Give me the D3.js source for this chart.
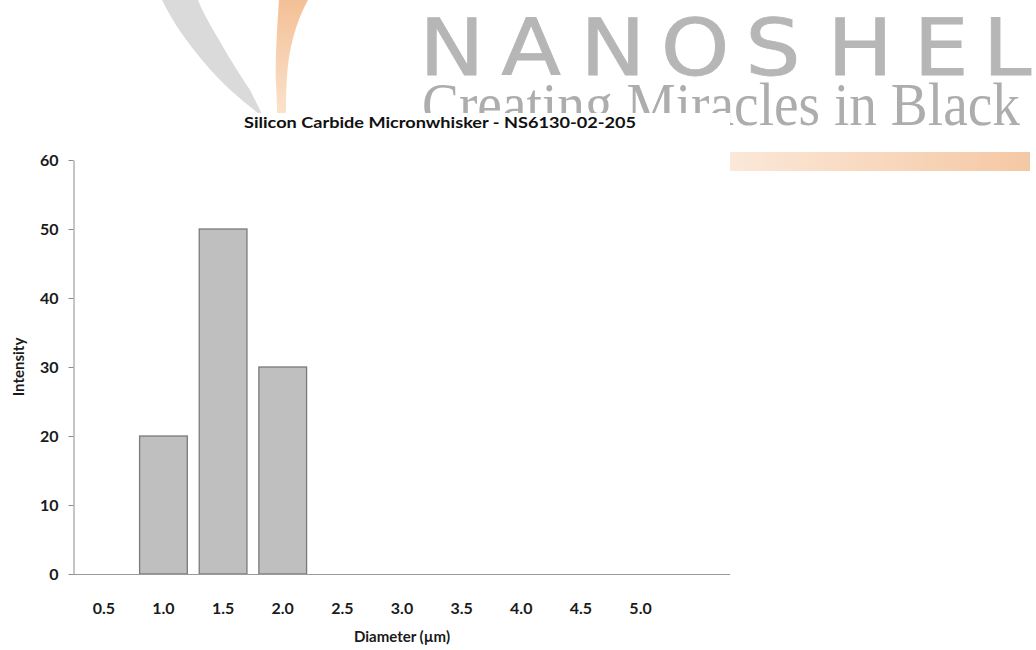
<!DOCTYPE html>
<html>
<head>
<meta charset="utf-8">
<script src="https://cdn.jsdelivr.net/npm/d3@7"></script>
<style>
  body { margin: 0; background: #fff; }
  svg { display: block; }
  .tick text { font-family: Lato, "Open Sans", sans-serif; font-weight: 700; font-size: 16px; fill: #1a1a1a; }
</style>
</head>
<body>
<div id="viz"></div>
<script>
const width = 1036;
const height = 650;
const margin = {top: 160, right: 306, bottom: 76, left: 74};

// Data
const diameters = ['0.5', '1.0', '1.5', '2.0', '2.5', '3.0', '3.5', '4.0', '4.5', '5.0', ''];
const intensity = [0, 20, 50, 30, 0, 0, 0, 0, 0, 0, 0];
const yTicks = [0, 10, 20, 30, 40, 50, 60];

const titleText = 'Silicon Carbide Micronwhisker - NS6130-02-205';
const xLabel = 'Diameter (µm)';
const yLabel = 'Intensity';

// logo watermark letters and their centres
const logoLetters = ['N', 'A', 'N', 'O', 'S', 'H', 'E', 'L'];
const logoCentres = [452, 531, 613, 695, 773, 860, 941, 1007];

const svg = d3.select('#viz')
  .append('svg')
  .attr('width', width)
  .attr('height', height)
  .attr('viewBox', [0, 0, width, height]);

// Watermark (logo behind the chart)
const defs = svg.append('defs');
const og = defs.append('linearGradient').attr('id', 'swoosh').attr('x1', 0).attr('y1', 0).attr('x2', 0).attr('y2', 1);
og.append('stop').attr('offset', '0%').attr('stop-color', '#f3c096');
og.append('stop').attr('offset', '100%').attr('stop-color', '#fbe2cc');
const bg = defs.append('linearGradient').attr('id', 'band').attr('x1', 0).attr('y1', 0).attr('x2', 1).attr('y2', 0);
bg.append('stop').attr('offset', '0%').attr('stop-color', '#fbe8d8');
bg.append('stop').attr('offset', '100%').attr('stop-color', '#f5c8a4');

const logo = svg.append('g').attr('class', 'watermark');
logo.append('path')
  .attr('d', 'M162,0 C168,12 175,24 182,34 C195,52 208,68 222,82 C235,95 248,105 259,114 L262,114 C258,106 254,98 250,90 C240,75 232,62 226,52 C216,34 205,18 198,0 Z')
  .attr('fill', '#dadada');
logo.append('path')
  .attr('d', 'M279,0 C277,30 275,60 276,85 C277,100 277,108 277,114 L286,114 C286,100 286,85 288,65 C291,40 298,18 308,0 Z')
  .attr('fill', 'url(#swoosh)');

logo.selectAll('.logo-letter')
  .data(logoLetters)
  .join('text')
    .attr('class', 'logo-letter')
    .attr('transform', (d, i) => `translate(${logoCentres[i]}, 75) scale(1.12, 1)`)
    .attr('text-anchor', 'middle')
    .style('font-family', '"DejaVu Sans", sans-serif')
    .style('font-size', '78px')
    .attr('fill', '#b6b6b6')
    .attr('stroke', '#b6b6b6')
    .attr('stroke-width', 0.8)
    .text(d => d);

logo.append('text')
  .attr('x', 422).attr('y', 125)
  .attr('textLength', 598).attr('lengthAdjust', 'spacingAndGlyphs')
  .style('font-family', '"Liberation Serif", serif')
  .style('font-size', '61px')
  .attr('fill', '#adadad')
  .text('Creating  Miracles  in  Black');
logo.append('rect')
  .attr('x', 730).attr('y', 152).attr('width', 300).attr('height', 19)
  .attr('fill', 'url(#band)');

// White chart area over the watermark
svg.append('rect')
  .attr('x', 0).attr('y', 113)
  .attr('width', 730).attr('height', height - 113)
  .attr('fill', '#fff');

// Scales
const xScale = d3.scaleBand()
  .domain(diameters)
  .range([margin.left, width - margin.right])
  .paddingInner(0.2)
  .paddingOuter(0.1);

const yScale = d3.scaleLinear()
  .domain([0, 60])
  .range([height - margin.bottom, margin.top]);

// Y axis
const yAxis = svg.append('g')
  .attr('transform', `translate(${margin.left - 0.5}, 0)`)
  .call(d3.axisLeft(yScale).tickValues(yTicks).tickSize(5).tickPadding(10).tickSizeOuter(0));
yAxis.select('.domain').attr('stroke', '#8c8c8c');
yAxis.selectAll('.tick line').attr('stroke', '#8c8c8c');

// Bars
svg.selectAll('.bar')
  .data(diameters.map((d, i) => ({d: d, v: intensity[i]})).filter(o => o.v > 0))
  .join('rect')
    .attr('class', 'bar')
    .attr('x', o => xScale(o.d))
    .attr('y', o => yScale(o.v))
    .attr('width', xScale.bandwidth())
    .attr('height', o => yScale(0) - yScale(o.v))
    .attr('fill', '#bfbfbf')
    .attr('stroke', '#7a7a7a')
    .attr('stroke-width', 1.3);

// X axis
const xAxis = svg.append('g')
  .attr('transform', `translate(0, ${yScale(0) + 0.5})`)
  .call(d3.axisBottom(xScale).tickSize(0).tickPadding(28).tickSizeOuter(0));
xAxis.select('.domain').attr('stroke', '#9a9a9a').attr('d', `M${margin.left - 1},0H${width - margin.right}`);

// Title and axis labels
svg.append('text')
  .attr('x', 440).attr('y', 128)
  .attr('text-anchor', 'middle')
  .attr('textLength', 392).attr('lengthAdjust', 'spacingAndGlyphs')
  .style('font-family', 'Lato, sans-serif')
  .style('font-weight', 700)
  .style('font-size', '16px')
  .attr('fill', '#111')
  .text(titleText);

svg.append('text')
  .attr('x', 402).attr('y', 642)
  .attr('text-anchor', 'middle')
  .style('font-family', 'Lato, sans-serif')
  .style('font-weight', 700)
  .style('font-size', '15px')
  .attr('fill', '#1a1a1a')
  .text(xLabel);

svg.append('text')
  .attr('transform', 'translate(24, 367) rotate(-90)')
  .attr('text-anchor', 'middle')
  .style('font-family', 'Lato, sans-serif')
  .style('font-weight', 700)
  .style('font-size', '15px')
  .attr('fill', '#1a1a1a')
  .text(yLabel);
</script>
</body>
</html>
